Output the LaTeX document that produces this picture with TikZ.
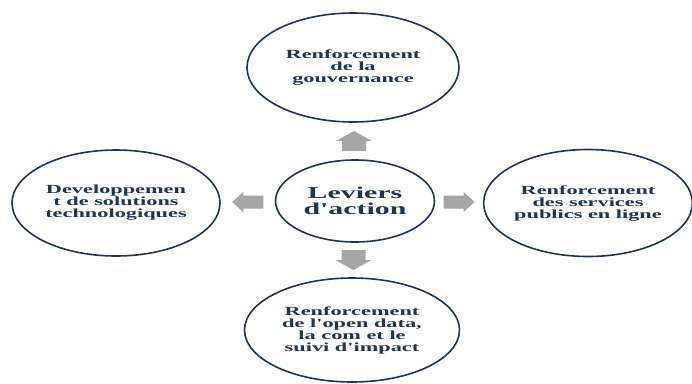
\documentclass[tikz,border=0pt]{standalone}
\usepackage{fontspec}
\newfontfamily\levfont[FakeStretch=1.8]{Liberation Serif}
\definecolor{levNavy}{RGB}{31,53,82}
\definecolor{levGrey}{RGB}{166,166,166}
\usetikzlibrary{shapes.geometric, calc}

\begin{document}
\begin{tikzpicture}[x=1pt, y=-1pt,
  goal/.style={draw=levNavy, line width=1.6pt, ellipse, fill=white, inner sep=0pt,
               text=levNavy, align=center, font=\levfont\bfseries\fontsize{12.4}{12}\selectfont},
  core/.style={goal, font=\levfont\bfseries\fontsize{16.6}{16}\selectfont},
  vpush/.pic={\fill[levGrey] (-12,10) -- (-12,0) -- (-18,0) -- (0,-10)
                -- (18,0) -- (12,0) -- (12,10) -- cycle;},
  hpush/.pic={\fill[levGrey] (-15.5,-6.5) -- (4.5,-6.5) -- (4.5,-10) -- (15.5,0)
                -- (4.5,10) -- (4.5,6.5) -- (-15.5,6.5) -- cycle;}]
  \useasboundingbox (0,0) rectangle (692,383);
  \node[core, minimum width=159pt, minimum height=82pt] (lv) at (355,201) {Leviers\\d'action};
  \node[goal, minimum width=212pt, minimum height=109pt] (gv) at (353,67.5) {Renforcement\\de la\\gouvernance};
  \node[goal, minimum width=208pt, minimum height=106pt] (ts) at (116,203) {Developpemen\\t de solutions\\technologiques};
  \node[goal, minimum width=206pt, minimum height=107pt] (sp) at (588,203) {Renforcement\\des services\\publics en ligne};
  \node[goal, minimum width=215pt, minimum height=104pt] (od) at (352,330) {Renforcement\\de l'open data,\\la com et le\\suivi d'impact};
  \pic at ($(lv.north)!0.5!(gv.south)$) {vpush};
  \pic[rotate=180] at ($(lv.south)!0.5!(od.north)$) {vpush};
  \pic[rotate=180] at ($(lv.west)!0.5!(ts.east)$) {hpush};
  \pic at ($(lv.east)!0.5!(sp.west)$) {hpush};
\end{tikzpicture}
\end{document}
